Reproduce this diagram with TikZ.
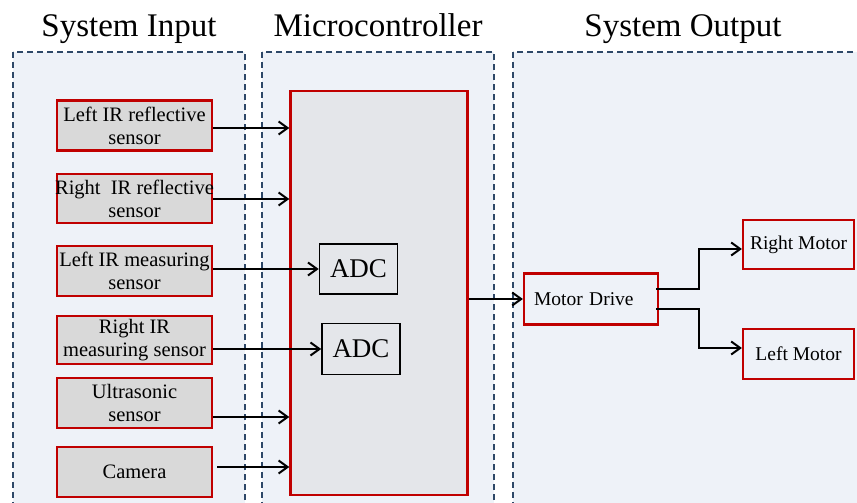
\documentclass[tikz,border=0pt]{standalone}
\usepackage{fontspec}
\setmainfont{Liberation Serif}
\usetikzlibrary{arrows.meta}

\definecolor{panelfill}{HTML}{EEF2F8}
\definecolor{paneledge}{HTML}{2E4868}
\definecolor{boxred}{HTML}{C00000}
\definecolor{sensorfill}{HTML}{D9D9D9}
\definecolor{mcufill}{HTML}{E4E6EA}

\tikzset{
	panel/.style={draw=paneledge, fill=panelfill, line width=1.6pt, dash pattern=on 6pt off 4pt},
	title/.style={anchor=base, font=\fontsize{33}{38}\selectfont},
	sensor/.style={draw=boxred, fill=sensorfill, line width=2.2pt, minimum width=155pt, align=center, inner sep=0pt, font=\fontsize{20.5}{23}\selectfont},
	adcbox/.style={draw=black, line width=1.6pt, minimum width=78pt, minimum height=50pt, inner sep=0pt, font=\fontsize{27}{30}\selectfont},
	outbox/.style={draw=boxred, fill=panelfill, line width=2.2pt, inner sep=0pt, font=\fontsize{19.5}{22}\selectfont},
	wire/.style={black, line width=2pt, -{Straight Barb[length=9pt,width=13pt]}}
}

\begin{document}
\begin{tikzpicture}[x=1pt, y=-1pt]
			\clip (0,0) rectangle (857,503);

			\draw[panel] (13,52) rectangle (245,515);
			\draw[panel] (262,52) rectangle (494,515);
			\draw[panel] (513,52) rectangle (880,515);

			\node[title] (tin) at (129,37) {System Input};
			\node[title] (tmcu) at (378,37) {Microcontroller};
			\node[title] (tout) at (683,37) {System Output};

			\node[sensor, minimum height=50pt] (s1) at (134.5,125.5) {Left IR reflective\\sensor};
			\node[sensor, minimum height=49pt] (s2) at (134.5,198.5) {\makebox[140pt]{Right~ IR reflective}\\sensor};
			\node[sensor, minimum height=50pt] (s3) at (134.5,271) {Left IR measuring\\sensor};
			\node[sensor, minimum height=48pt] (s4) at (134.5,340) {Right IR\\measuring sensor};
			\node[sensor, minimum height=50pt] (s5) at (134.5,403) {Ultrasonic\\sensor};
			\node[sensor, minimum height=50pt] (s6) at (134.5,472) {Camera};

			\node[draw=boxred, fill=mcufill, line width=2.4pt, minimum width=177pt, minimum height=404pt] (mcu) at (379,293) {};

			\node[adcbox] (adc1) at (358.5,269) {ADC};
			\node[adcbox, minimum height=51pt] (adc2) at (361,349) {ADC};

			\node[outbox, minimum height=51pt, inner xsep=10pt, text width=114pt, align=left] (drive) at (591,299) {Motor Drive};
			\node[outbox, minimum width=111pt, minimum height=49pt] (rmotor) at (798.5,244.5) {Right Motor};
			\node[outbox, minimum width=111pt, minimum height=50pt] (lmotor) at (798.5,354) {Left Motor};



			\draw[wire] ([yshift=-2.5pt]s1.east) -- ([yshift=-2.5pt]s1.east -| mcu.west);
			\draw[wire] ([yshift=-0.5pt]s2.east) -- ([yshift=-0.5pt]s2.east -| mcu.west);
			\draw[wire] (adc1.west -| s3.east) -- (adc1.west);
			\draw[wire] (adc2.west -| s4.east) -- (adc2.west);
			\draw[wire] ([yshift=-14pt]s5.east) -- ([yshift=-14pt]s5.east -| mcu.west);
			\draw[wire] ([xshift=4pt,yshift=5pt]s6.east) -- ([yshift=5pt]s6.east -| mcu.west);

			\draw[wire] (drive.west -| mcu.east) -- (drive.west);
			\draw[wire] ([xshift=-3pt,yshift=10pt]drive.east) -- ++(43pt,0) |- ([yshift=-4.5pt]rmotor.west);
			\draw[wire] ([xshift=-3pt,yshift=-10pt]drive.east) -- ++(43pt,0) |- ([yshift=6pt]lmotor.west);
		\end{tikzpicture}
\end{document}
